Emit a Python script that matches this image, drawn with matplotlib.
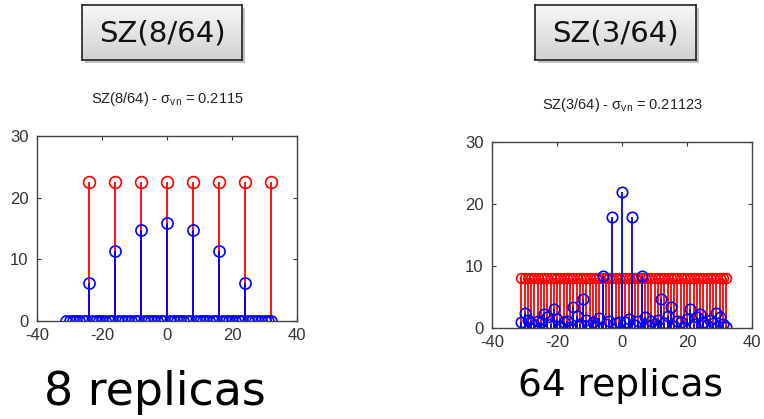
import numpy as np
import matplotlib.pyplot as plt
from matplotlib.patches import Rectangle

plt.rcParams["axes.unicode_minus"] = False
plt.rcParams["mathtext.fontset"] = "custom"
plt.rcParams["mathtext.rm"] = "Liberation Sans"
plt.rcParams["mathtext.it"] = "Liberation Sans"

# left panel: SZ(8/64), 8 replicas
n_left = np.arange(-31, 33)
red_left_x = [-24, -16, -8, 0, 8, 16, 24, 32]
red_left_y = [22.6, 22.6, 22.6, 22.6, 22.6, 22.6, 22.6, 22.6]
blue_peaks_x = [-24, -16, -8, 0, 8, 16, 24]
blue_peaks_y = [6.2, 11.3, 14.8, 15.9, 14.8, 11.3, 6.2]

# right panel: SZ(3/64), 64 replicas
n_right = np.arange(-31, 33)
red_right_y = [8.0] * 64
blue_right_y = [
    1.0, 2.4, 1.3, 0.8, 0.5, 1.2, 0.9, 2.2, 1.8, 0.6, 3.0, 1.4, 0.4, 0.9, 1.1, 0.2,
    3.4, 1.9, 0.7, 4.6, 1.3, 0.5, 1.0, 0.3, 1.6, 8.4, 0.6, 1.2, 17.9, 0.8, 1.0, 22.0,
    0.9, 1.4, 17.9, 0.5, 1.1, 8.4, 1.7, 0.4, 1.2, 0.6, 1.3, 4.6, 0.8, 2.0, 3.4, 0.3,
    1.2, 0.9, 0.2, 1.5, 3.0, 0.7, 1.7, 2.2, 1.0, 0.5, 1.3, 0.8, 2.4, 1.8, 0.6, 0.2,
]

W, H = 764, 419


def px(x0, y0, x1, y1):
    return [x0 / W, 1 - y1 / H, (x1 - x0) / W, (y1 - y0) / H]


def stem(ax, x, y, color, ms):
    m, s, b = ax.stem(x, y, basefmt=" ")
    plt.setp(s, color=color, linewidth=1.3)
    plt.setp(m, markerfacecolor="none", markeredgecolor=color,
             markersize=ms, markeredgewidth=1.2)


def style(ax, title):
    ax.set_xlim(-40, 40)
    ax.set_ylim(0, 30)
    ax.set_xticks([-40, -20, 0, 20, 40])
    ax.set_yticks([0, 10, 20, 30])
    ax.tick_params(direction="in", top=True, right=True, length=3,
                   labelsize=12, colors="#333333")
    ax.tick_params(axis="x", pad=5)
    ax.tick_params(axis="y", pad=6)
    for t in ax.get_xticklabels() + ax.get_yticklabels():
        t.set_family("Liberation Sans")
    for sp in ax.spines.values():
        sp.set_color("#444444")
        sp.set_linewidth(1.0)
    ax.set_title(title, fontsize=10.5, pad=24, family="Liberation Sans",
                 color="#222222")


def label_box(rect, text):
    # shadow + gradient-filled button with text
    sh = fig.add_axes(px(rect[0] + 3, rect[1] + 3, rect[2] + 3, rect[3] + 3))
    sh.set_axis_off()
    sh.add_patch(Rectangle((0, 0), 1, 1, transform=sh.transAxes,
                           facecolor="#c4c4c4", edgecolor="none"))
    bx = fig.add_axes(px(*rect))
    grad = np.linspace(0.97, 0.82, 64).reshape(-1, 1)
    bx.imshow(grad, cmap="gray", vmin=0, vmax=1, aspect="auto",
              extent=[0, 1, 0, 1], origin="upper")
    bx.set_xticks([])
    bx.set_yticks([])
    for sp in bx.spines.values():
        sp.set_color("#222222")
        sp.set_linewidth(1.2)
    bx.text(0.5, 0.48, text, ha="center", va="center", fontsize=21,
            family="DejaVu Sans", color="#111111", transform=bx.transAxes)


fig = plt.figure(figsize=(W / 100, H / 100), dpi=100)

blue_left_y = np.zeros(len(n_left))
for xv, yv in zip(blue_peaks_x, blue_peaks_y):
    blue_left_y[n_left == xv] = yv

ax1 = fig.add_axes(px(37, 136, 297, 321))
stem(ax1, red_left_x, red_left_y, "#ff0000", 8.5)
stem(ax1, n_left, blue_left_y, "#0000ff", 8)
style(ax1, r"SZ(8/64) - $\sigma_{\mathrm{vn}}$ = 0.2115")

ax2 = fig.add_axes(px(492, 142, 752, 328))
stem(ax2, n_right, red_right_y, "#ff0000", 7)
stem(ax2, n_right, blue_right_y, "#0000ff", 7.5)
style(ax2, r"SZ(3/64) - $\sigma_{\mathrm{vn}}$ = 0.21123")

label_box((82, 5, 242, 60), "SZ(8/64)")
label_box((535, 5, 696, 60), "SZ(3/64)")

fig.text(155 / W, 1 - 392 / H, "8 replicas", ha="center", va="center",
         fontsize=33, family="DejaVu Sans")
fig.text(620 / W, 1 - 386 / H, "64 replicas", ha="center", va="center",
         fontsize=27, family="DejaVu Sans")

fig.savefig("out.png", dpi=100)
